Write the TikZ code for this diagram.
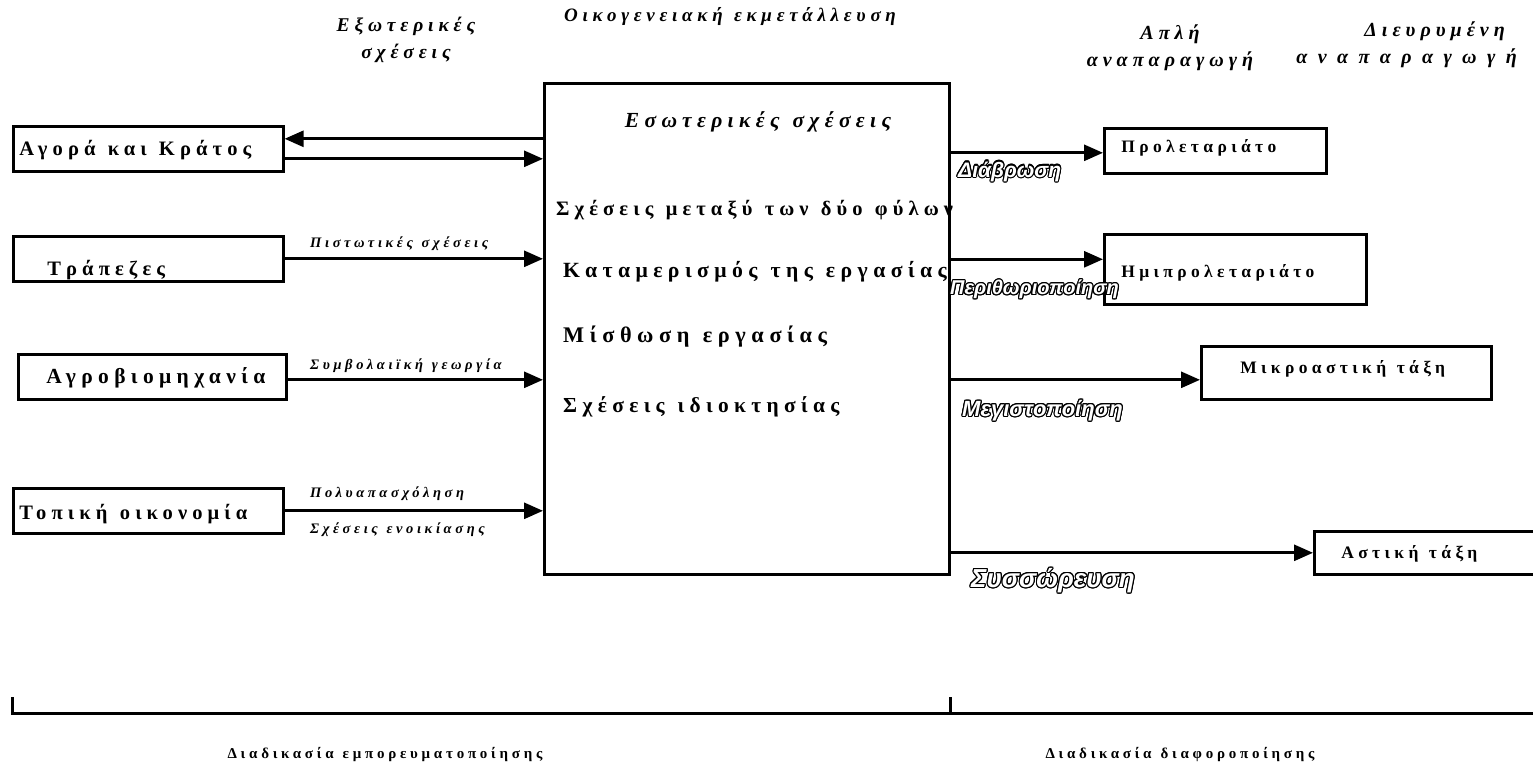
\documentclass[tikz,border=0pt]{standalone}
\usepackage{fontspec}
\setmainfont{Liberation Serif}
\newfontfamily\spaced[LetterSpace=25,WordSpace=1.2]{Liberation Serif}
\newfontfamily\wider[LetterSpace=52]{Liberation Serif}
\newfontfamily\outlfont{Liberation Sans}
\usepackage{contour}
\contourlength{1.1pt}
\usetikzlibrary{arrows.meta,positioning}
\newcommand{\hollow}[1]{{\color{white}\contour{black}{#1}}}
\newcommand{\gap}{\hspace{0.6em}}
\tikzset{
  >={Triangle[length=19pt,width=16pt]},
  box/.style={draw,line width=2.6pt,minimum height=45pt,inner xsep=6pt,inner ysep=0pt,anchor=north west,align=left,text height=13pt,text depth=0pt,font=\spaced\bfseries\fontsize{20.5}{22}\selectfont},
  classbox/.style={box,inner xsep=17pt,text height=12pt,font=\spaced\bfseries\fontsize{17.5}{20}\selectfont},
  drop/.style={text height=#1},
  farmbox/.style={draw,line width=2.6pt,minimum width=405pt,minimum height=491pt,inner sep=0pt,anchor=north west},
  relation/.style={anchor=west,inner sep=0pt,font=\spaced\bfseries\fontsize{21.5}{24}\selectfont},
  head/.style={align=center,inner sep=0pt,font=\spaced\bfseries\itshape\fontsize{20}{27}\selectfont},
  flowlbl/.style={anchor=west,inner sep=0pt,font=\spaced\bfseries\itshape\fontsize{14.5}{16}\selectfont},
  outline/.style={anchor=west,inner sep=0pt,font=\outlfont\bfseries\itshape\fontsize{21}{24}\selectfont},
  proc/.style={inner sep=0pt,font=\spaced\bfseries\fontsize{15}{17}\selectfont},
  arrow/.style={->,line width=2.8pt},
  bracket/.style={line width=3pt},
}

\begin{document}
\begin{tikzpicture}[x=1pt,y=-1pt]
\useasboundingbox (0,0) rectangle (1533,765);

% headers
\node[head,font=\spaced\bfseries\itshape\fontsize{19.5}{27}\selectfont] (ext) at (406,40) {Εξωτερικές\\σχέσεις};
\node[head,font=\spaced\bfseries\itshape\fontsize{19}{21}\selectfont] (fam) at (730,17) {Οικογενειακή εκμετάλλευση};
\node[head] (simple) at (1170,48) {Απλή\\αναπαραγωγή};
\node[head,align=right,anchor=east] (extended) at (1517,45) {Διευρυμένη\hspace*{12pt}\\{\wider αναπαραγωγή}};

% centre: the family farm
\node[farmbox] (farm) at (543,82) {};
\node[head,font=\spaced\bfseries\itshape\fontsize{21.5}{24}\selectfont] (inner) at (758,122) {Εσωτερικές σχέσεις};
\foreach \txt/\x/\sz/\y [count=\i] in {Σχέσεις μεταξύ των δύο φύλων/556/20.5/210, Καταμερισμός της εργασίας/563/21.7/272, Μίσθωση εργασίας/563/22.3/337, Σχέσεις ιδιοκτησίας/563/21.4/407}{
  \node[relation,font=\spaced\bfseries\fontsize{\sz}{24}\selectfont] (rel\i) at (\x,\y) {\txt};
}

% left: external relations
\node[box,text width=258pt] (agora) at (12,125) {Αγορά\gap και\gap Κράτος};
\node[box,text width=258pt,drop=33pt] (bank) at (12,235) {\hspace*{28pt}Τράπεζες};
\node[box,text width=256pt,font=\spaced\bfseries\fontsize{21.5}{23}\selectfont] (agro) at (17,353) {\hspace*{22pt}Αγροβιομηχανία};
\node[box,text width=258pt,drop=17pt] (local) at (12,487) {Τοπική\gap οικονομία};

\draw[arrow] ([yshift=10pt]agora.east -| farm.west) -- ([yshift=10pt]agora.east);
\draw[arrow] ([yshift=-10pt]agora.east) -- ([yshift=-10pt]agora.east -| farm.west);
\draw[arrow] (bank.east) -- (bank.east -| farm.west);
\draw[arrow] ([yshift=-3pt]agro.east) -- ([yshift=-3pt]agro.east -| farm.west);
\draw[arrow] (local.east) -- (local.east -| farm.west);

\node[flowlbl] (credit) at (310,244) {Πιστωτικές σχέσεις};
\node[flowlbl] (contract) at (310,366) {Συμβολαιϊκή γεωργία};
\node[flowlbl] (pluri) at (310,494) {Πολυαπασχόληση};
\node[flowlbl] (lease) at (310,530) {Σχέσεις ενοικίασης};

% right: class positions
\node[classbox,text width=188pt,drop=4pt] (prol) at (1103,127) {Προλεταριάτο};
\node[classbox,text width=228pt,minimum height=70pt,drop=17pt] (semi) at (1103,233) {Ημιπρολεταριάτο};
\node[classbox,text width=256pt,minimum height=53pt,drop=2pt] (petty) at (1200,345) {\hspace*{22pt}Μικροαστική\gap τάξη};
\node[classbox,text width=186pt,minimum height=43pt] (bourg) at (1313,530) {\hspace*{10pt}Αστική\gap τάξη};

\draw[arrow] ([yshift=-2pt]prol.west -| farm.east) -- ([yshift=-2pt]prol.west);
\draw[arrow] ([yshift=10pt]semi.west -| farm.east) -- ([yshift=10pt]semi.west);
\draw[arrow] ([yshift=-7pt]petty.west -| farm.east) -- ([yshift=-7pt]petty.west);
\draw[arrow] (farm.east |- bourg.west) -- (bourg.west);

\node[outline] (erosion) at (958,172) {\hollow{Διάβρωση}};
\node[outline,font=\outlfont\bfseries\itshape\fontsize{20}{22}\selectfont] (margin) at (950,290) {\hollow{Περιθωριοποίηση}};
\node[outline,font=\outlfont\bfseries\itshape\fontsize{22}{24}\selectfont] (maxim) at (962,411) {\hollow{Μεγιστοποίηση}};
\node[outline,font=\outlfont\bfseries\itshape\fontsize{26}{28}\selectfont] (accum) at (971,581) {\hollow{Συσσώρευση}};

% bottom: processes
\draw[bracket] (12,697) -- (12,713) -- (1533,713);
\draw[bracket] (farm.east |- 0,697) -- (farm.east |- 0,713);
\node[proc] (commod) at (385,755) {Διαδικασία εμπορευματοποίησης};
\node[proc] (differ) at (1180,755) {Διαδικασία διαφοροποίησης};

\end{tikzpicture}
\end{document}
